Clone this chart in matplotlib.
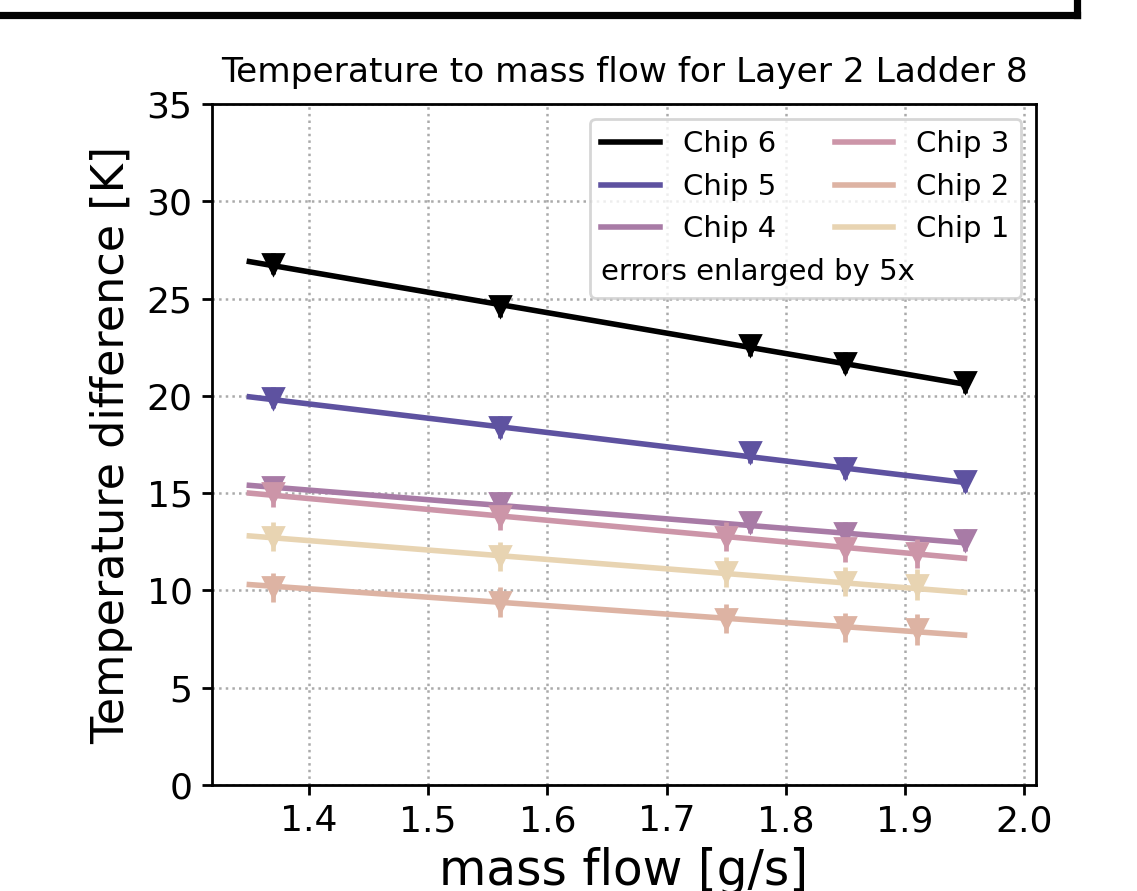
import numpy as np
import matplotlib
matplotlib.use('Agg')
import matplotlib.pyplot as plt
from matplotlib.lines import Line2D

# mass flow points [g/s]
flow_a = [1.37, 1.56, 1.77, 1.85, 1.95]   # chips 4-6
flow_b = [1.37, 1.56, 1.75, 1.85, 1.91]   # chips 1-3

chips = ['Chip 6', 'Chip 5', 'Chip 4', 'Chip 3', 'Chip 2', 'Chip 1']
colors = ['#000000', '#5e52a0', '#a87ba6', '#cc95a8', '#ddb3a3', '#e8d4b2']

dt_chip6 = [26.8, 24.6, 22.6, 21.7, 20.7]
dt_chip5 = [19.9, 18.4, 17.1, 16.3, 15.6]
dt_chip4 = [15.3, 14.5, 13.5, 12.95, 12.6]
dt_chip3 = [15.0, 13.8, 12.75, 12.2, 11.9]
dt_chip2 = [10.15, 9.4, 8.55, 8.1, 8.0]
dt_chip1 = [12.75, 11.75, 10.95, 10.45, 10.3]

err_chip6 = [0.11, 0.11, 0.11, 0.11, 0.11]
err_chip5 = [0.11, 0.11, 0.11, 0.11, 0.11]
err_chip4 = [0.11, 0.11, 0.11, 0.11, 0.11]
err_chip3 = [0.14, 0.14, 0.15, 0.15, 0.15]
err_chip2 = [0.15, 0.15, 0.15, 0.15, 0.16]
err_chip1 = [0.15, 0.15, 0.15, 0.15, 0.16]

# linear fit lines, end points at 1.35 and 1.95 g/s
fit_x = [1.35, 1.95]
fit_chip6 = [26.9, 20.6]
fit_chip5 = [19.95, 15.55]
fit_chip4 = [15.4, 12.45]
fit_chip3 = [15.0, 11.65]
fit_chip2 = [10.3, 7.7]
fit_chip1 = [12.8, 9.9]

enlarge = 5

xs = [flow_a, flow_a, flow_a, flow_b, flow_b, flow_b]
ys = [dt_chip6, dt_chip5, dt_chip4, dt_chip3, dt_chip2, dt_chip1]
errs = [err_chip6, err_chip5, err_chip4, err_chip3, err_chip2, err_chip1]
fits = [fit_chip6, fit_chip5, fit_chip4, fit_chip3, fit_chip2, fit_chip1]

fig = plt.figure(figsize=(5.685, 4.455), dpi=200)
ax = fig.add_axes([0.1865, 0.119, 0.7247, 0.7643])

for name, c, x, y, e, f in zip(chips, colors, xs, ys, errs, fits):
    ax.plot(fit_x, f, color=c, lw=2, label=name, zorder=3)
    ax.errorbar(x, y, yerr=np.array(e) * enlarge, fmt='v', color=c,
                ms=7.5, elinewidth=1.7, capsize=0, zorder=4)

ax.set_xlim(1.3187, 2.010)
ax.set_ylim(0, 35)
ax.set_xticks([1.4, 1.5, 1.6, 1.7, 1.8, 1.9, 2.0])
ax.tick_params(labelsize=13, width=1, length=3.5)
for s in ax.spines.values():
    s.set_linewidth(1)
ax.grid(True, ls=':', color='#aaaaaa', lw=0.9)
ax.set_axisbelow(True)

ax.set_title('Temperature to mass flow for Layer 2 Ladder 8', fontsize=12.4, pad=8)
ax.set_xlabel('mass flow [g/s]', fontsize=17.5, labelpad=3)
ax.set_ylabel('Temperature difference [K]', fontsize=16, labelpad=5)

leg = ax.legend(ncol=2, loc='upper right', fontsize=10.5,
                title='errors enlarged by 5x', title_fontsize=10.5,
                alignment='left')
# put the note below the entries
box = leg._legend_box
box._children = [leg._legend_handle_box, leg._legend_title_box]

# frame left over from the surrounding page
fig.add_artist(Line2D([0, 1077 / 1137], [1 - 15 / 891, 1 - 15 / 891],
                      transform=fig.transFigure, color='black', lw=2.6))
fig.add_artist(Line2D([1077 / 1137, 1077 / 1137], [1 - 15 / 891, 1.01],
                      transform=fig.transFigure, color='black', lw=2.6))

fig.savefig('out.png', dpi=200)
